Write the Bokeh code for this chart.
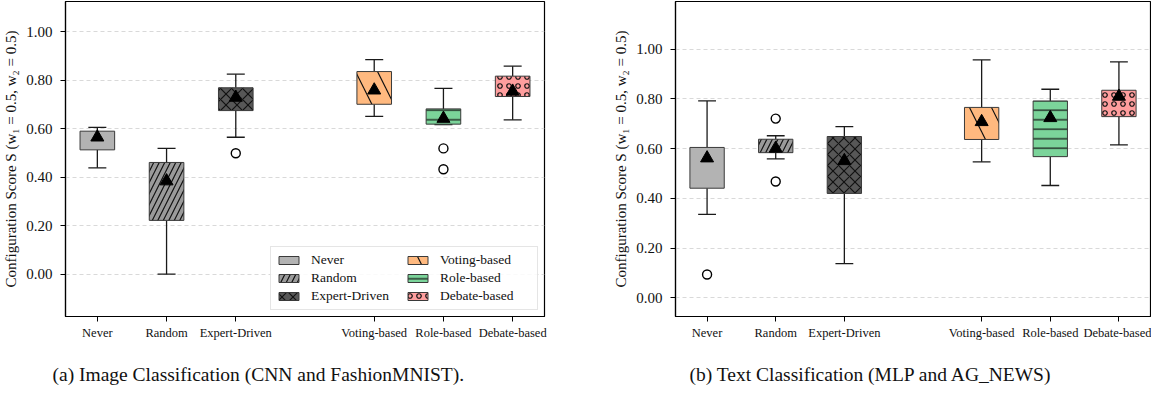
import numpy as np
from bokeh.plotting import figure
from bokeh.models import ColumnDataSource, FixedTicker, NumeralTickFormatter, Range1d
from bokeh.layouts import row
from bokeh.transform import dodge
from bokeh.embed import file_html
from bokeh.resources import INLINE

# ---------------- data ----------------
categories = ["Never", "Random", "Expert-Driven", "Voting-based", "Role-based", "Debate-based"]
families = ["Single", "Single", "Single", "Multi", "Multi", "Multi"]
y_ticks = [0.0, 0.2, 0.4, 0.6, 0.8, 1.0]

# (a) Image Classification (CNN and FashionMNIST)
img_whislo = [0.439, 0.000, 0.565, 0.651, 0.617, 0.637]
img_q1 = [0.513, 0.222, 0.675, 0.701, 0.619, 0.733]
img_q3 = [0.590, 0.461, 0.769, 0.836, 0.682, 0.817]
img_whishi = [0.606, 0.519, 0.825, 0.885, 0.767, 0.858]
img_mean = [0.565, 0.384, 0.729, 0.759, 0.642, 0.754]
img_out_cat = ["Expert-Driven", "Role-based", "Role-based"]
img_out_val = [0.499, 0.519, 0.433]

# (b) Text Classification (MLP and AG_NEWS)
txt_whislo = [0.336, 0.559, 0.138, 0.547, 0.452, 0.615]
txt_q1 = [0.441, 0.584, 0.420, 0.637, 0.568, 0.729]
txt_q3 = [0.605, 0.638, 0.649, 0.766, 0.792, 0.835]
txt_whishi = [0.792, 0.652, 0.689, 0.957, 0.839, 0.949]
txt_mean = [0.562, 0.601, 0.551, 0.708, 0.724, 0.810]
txt_out_cat = ["Never", "Random", "Random"]
txt_out_val = [0.094, 0.721, 0.468]

caption_a = "(a) Image Classification (CNN and FashionMNIST)."
caption_b = "(b) Text Classification (MLP and AG_NEWS)"
y_label = "Configuration Score S (w\u2081 = 0.5, w\u2082 = 0.5)"

# ---------------- styles ----------------
fill_colors = ["#b3b3b3", "#9a9a9a", "#575757", "#ffb97f", "#7bd49a", "#ff9e9e"]
hatch_patterns = [" ", "/", "x", "\\", "-", "o"]
hatch_scales = [10, 11, 11, 44, 9.5, 9]
SERIF = "Liberation Serif"


def positions():
    pos, gap = [], 0
    for i, f in enumerate(families):
        if i > 0 and f != families[i - 1]:
            gap += 1
        pos.append(i + gap)
    return pos


def make_panel(caption, whislo, q1, q3, whishi, mean, out_cat, out_val,
               y_range, border_left, border_right, frame_width, title_offset,
               with_legend):
    x = positions()
    src = ColumnDataSource(dict(x=x, cat=categories, q1=q1, q3=q3, lo=whislo,
                                hi=whishi, mean=mean, fill=fill_colors,
                                hatch=hatch_patterns, hscale=hatch_scales))
    out_src = ColumnDataSource(dict(x=[x[categories.index(c)] for c in out_cat],
                                    y=out_val))
    p = figure(frame_width=frame_width, frame_height=315,
               x_range=Range1d(-0.46, 6.46), y_range=Range1d(*y_range),
               output_backend="svg", toolbar_location=None,
               min_border_left=border_left, min_border_right=border_right,
               min_border_top=1, min_border_bottom=63,
               title=caption, title_location="below")
    p.background_fill_color = "white"
    p.border_fill_color = "white"
    p.outline_line_color = "black"
    p.outline_line_width = 1.2

    # whiskers
    p.segment(x0="x", y0="q3", x1="x", y1="hi", source=src, line_color="#1a1a1a", line_width=1.3)
    p.segment(x0="x", y0="q1", x1="x", y1="lo", source=src, line_color="#1a1a1a", line_width=1.3)
    p.segment(x0=dodge("x", -0.13), y0="hi", x1=dodge("x", 0.13), y1="hi", source=src,
              line_color="#1a1a1a", line_width=1.3)
    p.segment(x0=dodge("x", -0.13), y0="lo", x1=dodge("x", 0.13), y1="lo", source=src,
              line_color="#1a1a1a", line_width=1.3)
    # boxes
    kw = dict(x="x", width=0.5, bottom="q1", top="q3", source=src,
              fill_color="fill", line_color="#3a3a3a", line_width=1.0,
              hatch_pattern="hatch", hatch_scale="hscale", hatch_color="#111111",
              hatch_weight=1.2)
    if with_legend:
        p.vbar(legend_field="cat", **kw)
    else:
        p.vbar(**kw)
    # means
    p.scatter(x="x", y="mean", source=src, marker="triangle", size=13,
              fill_color="black", line_color="black")
    # outliers
    p.scatter(x="x", y="y", source=out_src, marker="circle", size=9,
              fill_color="white", line_color="black", line_width=1.4)

    # axes
    p.xaxis.ticker = FixedTicker(ticks=x)
    p.xaxis.major_label_overrides = {xi: c for xi, c in zip(x, categories)}
    p.yaxis.ticker = FixedTicker(ticks=y_ticks)
    p.yaxis.formatter = NumeralTickFormatter(format="0.00")
    for ax in (p.xaxis[0], p.yaxis[0]):
        ax.axis_line_color = "black"
        ax.axis_line_width = 1.2
        ax.major_tick_line_color = "black"
        ax.major_tick_out = 5
        ax.major_tick_in = 0
        ax.minor_tick_line_color = None
        ax.major_label_text_font = SERIF
        ax.major_label_text_color = "#111111"
    p.xaxis.major_label_text_font_size = "12.5px"
    p.xaxis.major_label_standoff = 4
    p.yaxis.major_label_text_font_size = "15px"
    p.yaxis.major_label_standoff = 8
    p.yaxis.axis_label = y_label
    p.yaxis.axis_label_text_font = SERIF
    p.yaxis.axis_label_text_font_size = "15px"
    p.yaxis.axis_label_text_font_style = "normal"
    p.yaxis.axis_label_text_color = "#111111"
    p.yaxis.axis_label_standoff = 4

    p.xgrid.visible = False
    p.ygrid.grid_line_color = "#d9d9d9"
    p.ygrid.grid_line_dash = "4 3"
    p.ygrid.grid_line_width = 1

    p.title.text_font = SERIF
    p.title.text_font_size = "19.5px"
    p.title.text_font_style = "normal"
    p.title.text_color = "#111111"
    p.title.align = "left"
    p.title.offset = title_offset
    p.title.standoff = 39

    if with_legend:
        lg = p.legend[0]
        lg.ncols = 2
        lg.location = "bottom_right"
        lg.margin = 6
        lg.padding = 5
        lg.spacing = 2
        lg.glyph_width = 25
        lg.glyph_height = 10
        lg.label_height = 13
        lg.label_width = 92
        lg.label_standoff = 10
        lg.label_text_font = SERIF
        lg.label_text_font_size = "13.5px"
        lg.label_text_color = "#111111"
        lg.border_line_color = "#cccccc"
        lg.border_line_width = 1
        lg.background_fill_alpha = 0.85
    return p


p1 = make_panel(caption_a, img_whislo, img_q1, img_q3, img_whishi, img_mean,
                img_out_cat, img_out_val, (-0.1745, 1.125), 61, 52, 479, -13, True)
p2 = make_panel(caption_b, txt_whislo, txt_q1, txt_q3, txt_whishi, txt_mean,
                txt_out_cat, txt_out_val, (-0.075, 1.192), 79, 1, 475, 14, False)

layout = row(p1, p2)
open("out.html", "w").write(file_html(layout, INLINE))
